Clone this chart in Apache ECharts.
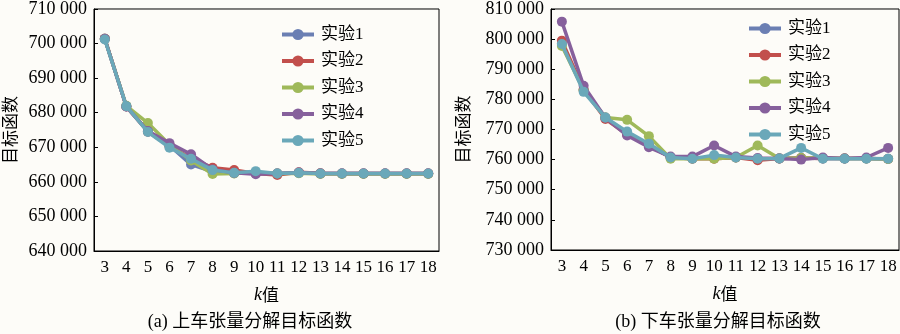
<!DOCTYPE html>
<html>
<head>
<meta charset="utf-8">
<script src="https://cdn.jsdelivr.net/npm/echarts@6/dist/echarts.min.js"></script>
<style>
html,body{margin:0;padding:0;background:#fdfcf8;}
#c{width:900px;height:334px;}
</style>
</head>
<body>
<div id="c"></div>
<script>
const categories = ['3','4','5','6','7','8','9','10','11','12','13','14','15','16','17','18'];
const seriesNames = ['实验1','实验2','实验3','实验4','实验5'];

// (a) 上车张量分解目标函数
const up1 = [701400, 681800, 674600, 670500, 665000, 663000, 662500, 662500, 662400, 662600, 662400, 662400, 662400, 662400, 662400, 662400];
const up2 = [701400, 681800, 674500, 670300, 666800, 664100, 663400, 662400, 662000, 662800, 662500, 662400, 662400, 662400, 662400, 662400];
const up3 = [701400, 682000, 677000, 670800, 666200, 662300, 662400, 662700, 662400, 662500, 662300, 662300, 662300, 662300, 662300, 662300];
const up4 = [701400, 681800, 674700, 671200, 668000, 663600, 662600, 662200, 662400, 662700, 662400, 662400, 662400, 662400, 662400, 662400];
const up5 = [701200, 681900, 674400, 669900, 666700, 663400, 662600, 663100, 662400, 662600, 662400, 662400, 662400, 662400, 662400, 662400];

// (b) 下车张量分解目标函数
const down1 = [798500, 783200, 774000, 768500, 764600, 760700, 760400, 760600, 760700, 760200, 760400, 760500, 760400, 760400, 760400, 760300];
const down2 = [799500, 783200, 773500, 768300, 764800, 760700, 760300, 760300, 760700, 759800, 760400, 760500, 760400, 760400, 760400, 760200];
const down3 = [797700, 783000, 774000, 773200, 767800, 760300, 760400, 760300, 760700, 764700, 760400, 760500, 760500, 760400, 760400, 760200];
const down4 = [805800, 784500, 773900, 768000, 764100, 761000, 761000, 764700, 761000, 760500, 760400, 760000, 760700, 760400, 760700, 763900];
const down5 = [798400, 782500, 774000, 769300, 765300, 760700, 760300, 761500, 760700, 760300, 760400, 763900, 760300, 760300, 760300, 760300];

const yTicksA = {min: 640000, max: 710000, interval: 10000};
const yTicksB = {min: 730000, max: 810000, interval: 10000};

const colors = ['#6b7fb3', '#c24f4c', '#9fb95a', '#86609c', '#6aa8b9'];
const FONT = '"Liberation Serif","Times New Roman","Noto Sans CJK SC",serif';
const CJK = '"Noto Sans CJK SC","Liberation Serif",serif';

const fmt = v => String(v).replace(/\B(?=(\d{3})+(?!\d))/g, ' ');

function xAxis(gi) {
  return {
    type: 'category', gridIndex: gi, data: categories, boundaryGap: true,
    axisLine: {lineStyle: {color: '#000', width: 1}},
    axisTick: {inside: true, length: 4, lineStyle: {color: '#000'}},
    axisLabel: {color: '#000', fontFamily: FONT, fontSize: 17, margin: 8, interval: 0},
    name: '{i|k}值', nameLocation: 'middle', nameGap: 35,
    nameTextStyle: {color: '#000', fontFamily: CJK, fontSize: 17,
      rich: {i: {fontFamily: FONT, fontStyle: 'italic', fontSize: 18, color: '#000'}}},
    splitLine: {show: false}
  };
}
function yAxis(gi, t, gap) {
  return {
    type: 'value', gridIndex: gi, min: t.min, max: t.max, interval: t.interval,
    axisLine: {show: true, lineStyle: {color: '#000', width: 1}},
    axisTick: {show: true, inside: true, length: 4, lineStyle: {color: '#000'}},
    axisLabel: {color: '#000', fontFamily: FONT, fontSize: 18, margin: 7, formatter: fmt},
    splitLine: {show: false},
    name: '目标函数', nameLocation: 'middle', nameGap: gap, nameRotate: 90,
    nameTextStyle: {color: '#000', fontFamily: CJK, fontSize: 17}
  };
}
function mkSeries(gi, arrs) {
  return arrs.map((d, i) => ({
    name: seriesNames[i], type: 'line', xAxisIndex: gi, yAxisIndex: gi, data: d,
    symbol: 'circle', symbolSize: 10, showSymbol: true,
    lineStyle: {width: 3.5, color: colors[i]},
    itemStyle: {color: colors[i]},
    emphasis: {disabled: true}, z: 2 + i
  }));
}
function legend(left, top) {
  return {
    data: seriesNames, orient: 'vertical', left: left, top: top, padding: 0,
    itemWidth: 32, itemHeight: 14, itemGap: 9.5,
    lineStyle: {width: 4},
    textStyle: {color: '#000', fontFamily: FONT, fontSize: 17, lineHeight: 17, padding: [0,0,0,2]},
    selectedMode: false
  };
}

const chart = echarts.init(document.getElementById('c'), null, {renderer: 'canvas'});
chart.setOption({
  backgroundColor: '#fdfcf8',
  animation: false,
  color: colors,
  grid: [
    {left: 92, top: 7, width: 347, height: 244, show: true, borderColor: '#000', borderWidth: 1, backgroundColor: 'transparent'},
    {left: 551, top: 7, width: 348, height: 243, show: true, borderColor: '#000', borderWidth: 1, backgroundColor: 'transparent'}
  ],
  xAxis: [xAxis(0), xAxis(1)],
  yAxis: [yAxis(0, yTicksA, 76), yAxis(1, yTicksB, 80)],
  legend: [legend(280, 26), legend(747, 20)],
  series: [...mkSeries(0, [up1, up2, up3, up4, up5]), ...mkSeries(1, [down1, down2, down3, down4, down5])],
  graphic: [
    {type: 'text', x: 250, y: 322, style: {text: '(a) 上车张量分解目标函数', fill: '#000', font: '18px ' + FONT, textAlign: 'center', textVerticalAlign: 'middle'}},
    {type: 'text', x: 718, y: 322, style: {text: '(b) 下车张量分解目标函数', fill: '#000', font: '18px ' + FONT, textAlign: 'center', textVerticalAlign: 'middle'}}
  ]
});
</script>
</body>
</html>
